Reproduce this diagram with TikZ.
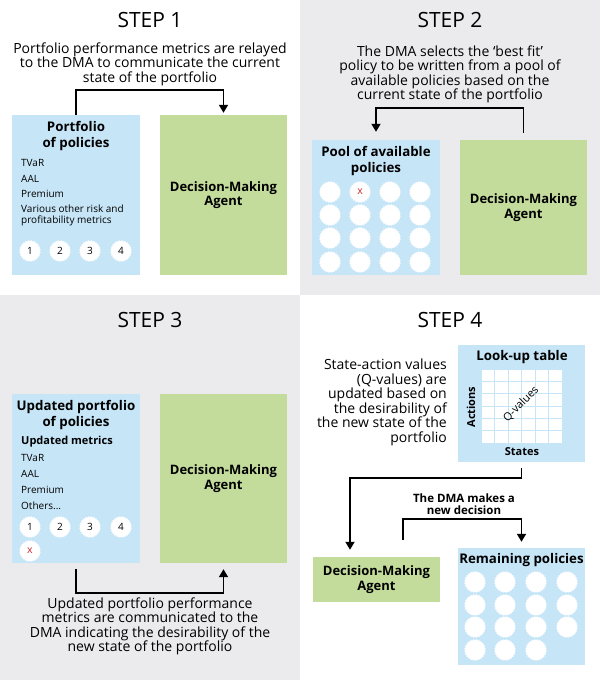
\documentclass[tikz,border=0pt]{standalone}
\usepackage{fontspec}
\setmainfont{Open Sans}
\usetikzlibrary{positioning,arrows.meta,shapes.geometric}
\definecolor{boxblue}{HTML}{C6E5F7}
\definecolor{boxgreen}{HTML}{C3DC9B}
\definecolor{bggray}{HTML}{EBEBED}
\definecolor{xred}{HTML}{D0282E}

\begin{document}
\begin{tikzpicture}[x=1pt, y=-1pt,
    heading/.style = {font=\fontsize{21}{24}\selectfont},
    caption/.style = {align=center, inner sep=0, font=\fontsize{14}{14.5}\selectfont},
    pbox/.style = {fill=boxblue, minimum width=128pt, inner sep=0},
    dbox/.style = {fill=boxgreen, minimum width=127pt, inner sep=0, align=center, font=\bfseries\fontsize{13}{14.5}\selectfont},
    title/.style = {align=center, inner sep=0, font=\bfseries\fontsize{13.3}{16}\selectfont},
    item/.style = {anchor=west, align=left, inner sep=0, font=\fontsize{10}{11}\selectfont},
    pol/.style = {star, star points=24, star point ratio=0.9, fill=white, minimum size=19.5pt, inner sep=0, font=\fontsize{10}{10}\selectfont},
    flow/.style = {line width=1.8pt, -{Triangle[width=9pt,length=8pt]}}]
    \useasboundingbox (0,0) rectangle (600,680);
    \fill[bggray] (300,0) rectangle (600,295);
    \fill[bggray] (0,295) rectangle (300,680);

    % step 1
    \node[heading] (s1) at (150,20) {STEP 1};
    \node[caption] (c1) at (150,64) {Portfolio performance metrics are relayed\\to the DMA to communicate the current\\state of the portfolio};
    \node[pbox, minimum height=160pt] (port1) at (76,195) {};
    \node[dbox, minimum height=160pt] (dma1) at (223.5,195) {Decision-Making\\Agent};
    \node[title] (t1) at (76,136) {Portfolio\\of policies};
    \node[item] (m1a) at (21,163) {TVaR};
    \node[item] (m1b) at (21,179) {AAL};
    \node[item] (m1c) at (21,194) {Premium};
    \node[item] (m1d) at (21,215.5) {Various other risk and\\profitability metrics};
    \foreach \n/\x in {1/30,2/60,3/90,4/121}
        \node[pol] (p1\n) at (\x,251) {\n};
    \draw[flow, shorten >=2pt] (port1.north) -- ++(0,-25) -| (dma1.north);

    % step 2
    \node[heading] (s2) at (450,20) {STEP 2};
    \node[caption] (c2) at (450,74.5) {The DMA selects the ‘best fit’\\policy to be written from a pool of\\available policies based on the\\current state of the portfolio};
    \node[pbox, minimum height=135pt] (port2) at (376,207.5) {};
    \node[dbox, minimum height=135pt] (dma2) at (523.5,207.5) {Decision-Making\\Agent};
    \node[title] (t2) at (376,161) {Pool of available\\policies};
    \foreach \y [count=\r] in {192,215,238,262}
        \foreach \x [count=\c] in {330,360,390,420}
            \node[pol] (p2-\r-\c) at (\x,\y) {};
    \node[text=xred, font=\fontsize{10.5}{10}\selectfont] (x2) at (p2-1-2) {x};
    \draw[flow, shorten <=7pt, shorten >=8pt] (dma2.north) -- ++(0,-32) -| (port2.north);

    % step 3
    \node[heading] (s3) at (150,320) {STEP 3};
    \node[pbox, minimum height=169pt] (port3) at (76,478.5) {};
    \node[dbox, minimum height=169pt] (dma3) at (223.5,478.5) {Decision-Making\\Agent};
    \node[title] (t3) at (76,415.5) {Updated portfolio\\of policies};
    \node[item, font=\bfseries\fontsize{11}{13}\selectfont] (m3u) at (21,442) {Updated metrics};
    \node[item] (m3a) at (21,458) {TVaR};
    \node[item] (m3b) at (21,474) {AAL};
    \node[item] (m3c) at (21,490) {Premium};
    \node[item] (m3d) at (21,506) {Others...};
    \foreach \n/\x in {1/30,2/60,3/90,4/121}
        \node[pol] (p3\n) at (\x,527) {\n};
    \node[pol, text=xred, font=\fontsize{10.5}{10}\selectfont] (p3x) at (30,551) {x};
    \draw[flow, shorten <=6pt, shorten >=6pt] (port3.south) -- ++(0,30) -| (dma3.south);
    \node[caption] (c3) at (150,626.5) {Updated portfolio performance\\metrics are communicated to the\\DMA indicating the desirability of the\\new state of the portfolio};

    % step 4
    \node[heading] (s4) at (450,320) {STEP 4};
    \node[caption, anchor=east, align=right] (c4) at (447,402.5) {State-action values\\(Q-values) are\\updated based on\\the desirability of\\the new state of the\\portfolio};
    \node[pbox, minimum width=127pt, minimum height=117pt] (look) at (521.5,403.5) {};
    \node[title] (t4) at (522,357) {Look-up table};
    \fill[white] (481,369) rectangle (562,443);
    \foreach \i in {0,...,6} {
        \draw[boxblue, line width=0.8pt] (481+13.5*\i,369) -- (481+13.5*\i,443);
        \draw[boxblue, line width=0.8pt] (481,369+12.33*\i) -- (562,369+12.33*\i);
    }
    \node[rotate=90, inner sep=0, font=\bfseries\fontsize{11}{13}\selectfont] (act) at (471,407) {Actions};
    \node[rotate=45, inner sep=0, font=\fontsize{11}{13}\selectfont] (qv) at (521,404) {Q-values};
    \node[inner sep=0, font=\bfseries\fontsize{11}{13}\selectfont] (sts) at (522,452) {States};
    \node[dbox, minimum height=45pt] (dma4) at (376.5,579.5) {Decision-Making\\Agent};
    \node[pbox, minimum width=127pt, minimum height=117pt] (rem) at (521.5,606.5) {};
    \node[title] (t5) at (521.5,560) {Remaining policies};
    \foreach \y [count=\r] in {582,605,627}
        \foreach \x [count=\c] in {475,505,536,567}
            \node[pol] (r-\r-\c) at (\x,\y) {};
    \foreach \x [count=\c] in {475,505,536}
        \node[pol] (r-4-\c) at (\x,650) {};
    \draw[flow, shorten <=6pt, shorten >=7pt] (look.south) -- ++(0,16) -| ([xshift=-26.5pt]dma4.north);
    \draw[flow, shorten <=17pt, shorten >=6pt] ([xshift=26.5pt]dma4.north) -- ++(0,-38) -| (rem.north);
    \node[align=center, inner sep=0, font=\bfseries\fontsize{11.5}{12}\selectfont] (dec) at (464,504) {The DMA makes a\\new decision};
\end{tikzpicture}
\end{document}
